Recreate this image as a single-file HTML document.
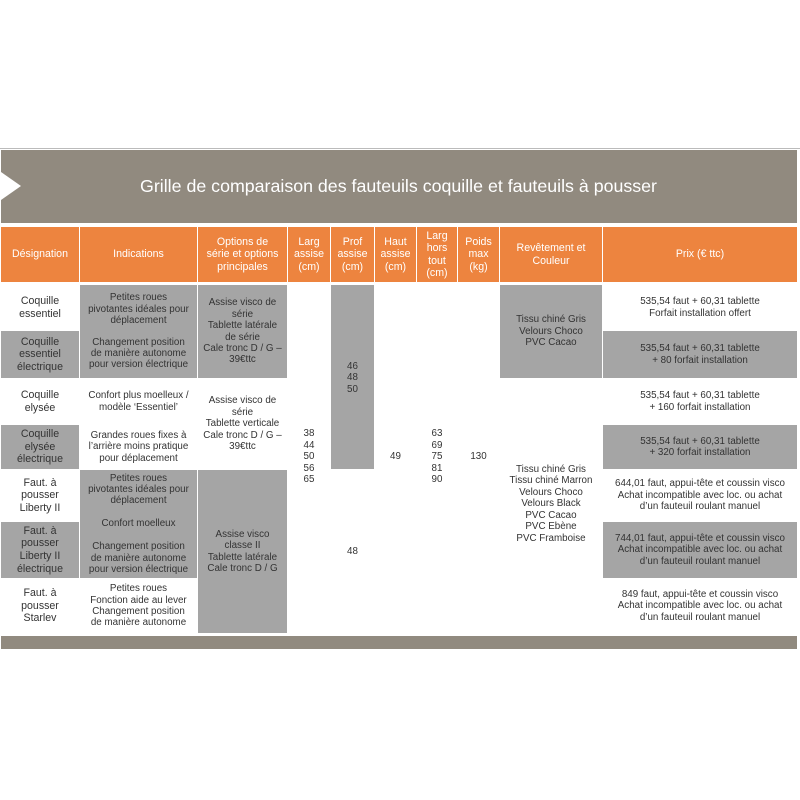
<!DOCTYPE html>
<html><head><meta charset="utf-8"><style>
body{margin:0;width:800px;height:800px;background:#fff;position:relative;overflow:hidden;font-family:"Liberation Sans",sans-serif;color:#333;}
.c{position:absolute;display:flex;align-items:center;justify-content:center;text-align:center;font-size:9.8px;line-height:11.4px;box-sizing:border-box;}
.g{background:#a5a5a5;}
.h{background:#ed843f;color:#fff;font-size:10.6px;line-height:12.4px;}
.d{font-size:10.6px;line-height:12.6px;}
</style></head><body>
<div style="position:absolute;left:0;top:148px;width:800px;height:1px;background:#bbb"></div>
<div style="position:absolute;left:1px;top:150px;width:796px;height:73px;background:#918a7f"></div>
<div style="position:absolute;left:1px;top:172px;width:0;height:0;border-top:14px solid transparent;border-bottom:14px solid transparent;border-left:20px solid #fff"></div>
<div style="position:absolute;left:0;top:176px;width:797px;text-align:center;color:#fff;font-size:17.8px;line-height:20px">Grille de comparaison des fauteuils coquille et fauteuils à pousser</div>

<div class="c h" style="left:1px;top:227px;width:78px;height:55px">Désignation</div>
<div class="c h" style="left:80px;top:227px;width:117px;height:55px">Indications</div>
<div class="c h" style="left:198px;top:227px;width:89px;height:55px">Options de<br>série et options<br>principales</div>
<div class="c h" style="left:288px;top:227px;width:42px;height:55px">Larg<br>assise<br>(cm)</div>
<div class="c h" style="left:331px;top:227px;width:43px;height:55px">Prof<br>assise<br>(cm)</div>
<div class="c h" style="left:375px;top:227px;width:41px;height:55px">Haut<br>assise<br>(cm)</div>
<div class="c h" style="left:417px;top:227px;width:40px;height:55px">Larg<br>hors<br>tout<br>(cm)</div>
<div class="c h" style="left:458px;top:227px;width:41px;height:55px">Poids<br>max<br>(kg)</div>
<div class="c h" style="left:500px;top:227px;width:102px;height:55px">Revêtement et<br>Couleur</div>
<div class="c h" style="left:603px;top:227px;width:194px;height:55px">Prix (€ ttc)</div>

<div class="c d" style="left:1px;top:285px;width:78px;height:45px">Coquille<br>essentiel</div>
<div class="c d g" style="left:1px;top:331px;width:78px;height:47px">Coquille<br>essentiel<br>électrique</div>
<div class="c d" style="left:1px;top:379px;width:78px;height:45px">Coquille<br>elysée</div>
<div class="c d g" style="left:1px;top:425px;width:78px;height:44px">Coquille<br>elysée<br>électrique</div>
<div class="c d" style="left:1px;top:470px;width:78px;height:51px">Faut. à<br>pousser<br>Liberty II</div>
<div class="c d g" style="left:1px;top:522px;width:78px;height:56px">Faut. à<br>pousser<br>Liberty II<br>électrique</div>
<div class="c d" style="left:1px;top:579px;width:78px;height:54px">Faut. à<br>pousser<br>Starlev</div>

<div class="c g" style="left:80px;top:285px;width:117px;height:93px;flex-direction:column">
<div style="margin-bottom:10px">Petites roues<br>pivotantes idéales pour<br>déplacement</div>
<div>Changement position<br>de manière autonome<br>pour version électrique</div></div>
<div class="c" style="left:80px;top:379px;width:117px;height:45px">Confort plus moelleux /<br>modèle ‘Essentiel’</div>
<div class="c" style="left:80px;top:425px;width:117px;height:44px">Grandes roues fixes à<br>l’arrière moins pratique<br>pour déplacement</div>
<div class="c g" style="left:80px;top:470px;width:117px;height:108px">Petites roues<br>pivotantes idéales pour<br>déplacement<br><br>Confort moelleux<br><br>Changement position<br>de manière autonome<br>pour version électrique</div>
<div class="c" style="left:80px;top:579px;width:117px;height:54px">Petites roues<br>Fonction aide au lever<br>Changement position<br>de manière autonome</div>

<div class="c g" style="left:198px;top:285px;width:89px;height:93px">Assise visco de<br>série<br>Tablette latérale<br>de série<br>Cale tronc D / G –<br>39€ttc</div>
<div class="c" style="left:198px;top:379px;width:89px;height:90px">Assise visco de<br>série<br>Tablette verticale<br>Cale tronc D / G –<br>39€ttc</div>
<div class="c g" style="left:198px;top:470px;width:89px;height:163px">Assise visco<br>classe II<br>Tablette latérale<br>Cale tronc D / G</div>

<div class="c" style="left:288px;top:285px;width:42px;height:348px;padding-bottom:4px">38<br>44<br>50<br>56<br>65</div>
<div class="c g" style="left:331px;top:285px;width:43px;height:184px;padding-top:2px">46<br>48<br>50</div>
<div class="c" style="left:331px;top:470px;width:43px;height:163px">48</div>
<div class="c" style="left:375px;top:285px;width:41px;height:348px;padding-bottom:4px">49</div>
<div class="c" style="left:417px;top:285px;width:40px;height:348px;padding-bottom:4px">63<br>69<br>75<br>81<br>90</div>
<div class="c" style="left:458px;top:285px;width:41px;height:348px;padding-bottom:4px">130</div>
<div class="c g" style="left:500px;top:285px;width:102px;height:93px">Tissu chiné Gris<br>Velours Choco<br>PVC Cacao</div>
<div class="c" style="left:500px;top:379px;width:102px;height:254px;padding-bottom:4px">Tissu chiné Gris<br>Tissu chiné Marron<br>Velours Choco<br>Velours Black<br>PVC Cacao<br>PVC Ebène<br>PVC Framboise</div>

<div class="c" style="left:603px;top:285px;width:194px;height:45px">535,54 faut + 60,31 tablette<br>Forfait installation offert</div>
<div class="c g" style="left:603px;top:331px;width:194px;height:47px">535,54 faut + 60,31 tablette<br>+ 80 forfait installation</div>
<div class="c" style="left:603px;top:379px;width:194px;height:45px">535,54 faut + 60,31 tablette<br>+ 160 forfait installation</div>
<div class="c g" style="left:603px;top:425px;width:194px;height:44px">535,54 faut + 60,31 tablette<br>+ 320 forfait installation</div>
<div class="c" style="left:603px;top:470px;width:194px;height:51px">644,01 faut, appui-tête et coussin visco<br>Achat incompatible avec loc. ou achat<br>d’un fauteuil roulant manuel</div>
<div class="c g" style="left:603px;top:522px;width:194px;height:56px">744,01 faut, appui-tête et coussin visco<br>Achat incompatible avec loc. ou achat<br>d’un fauteuil roulant manuel</div>
<div class="c" style="left:603px;top:579px;width:194px;height:54px">849 faut, appui-tête et coussin visco<br>Achat incompatible avec loc. ou achat<br>d’un fauteuil roulant manuel</div>

<div style="position:absolute;left:1px;top:636px;width:796px;height:13px;background:#918a7f"></div>
</body></html>
